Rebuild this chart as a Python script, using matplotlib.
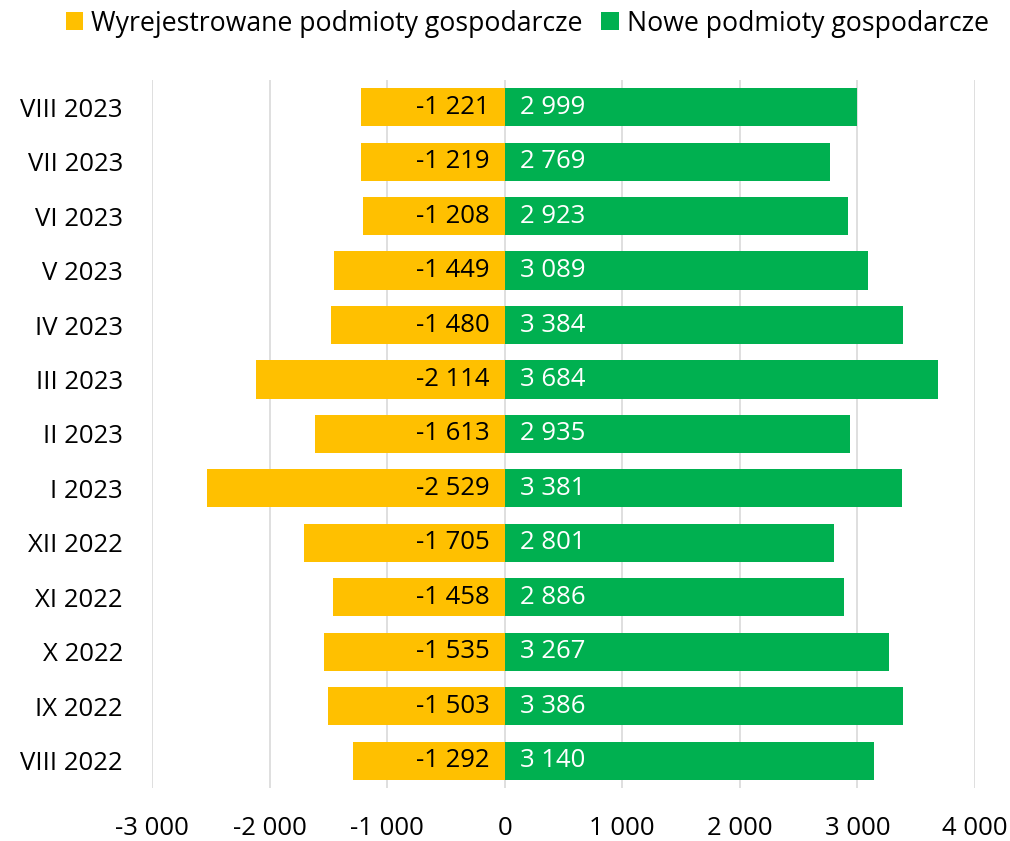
import matplotlib
matplotlib.use("Agg")
import matplotlib.pyplot as plt
from matplotlib.ticker import FuncFormatter

plt.rcParams['font.family'] = ['Open Sans', 'DejaVu Sans']

months = ['VIII 2022', 'IX 2022', 'X 2022', 'XI 2022', 'XII 2022', 'I 2023', 'II 2023',
          'III 2023', 'IV 2023', 'V 2023', 'VI 2023', 'VII 2023', 'VIII 2023']
wyrejestrowane = [-1292, -1503, -1535, -1458, -1705, -2529, -1613,
                  -2114, -1480, -1449, -1208, -1219, -1221]
nowe = [3140, 3386, 3267, 2886, 2801, 3381, 2935,
        3684, 3384, 3089, 2923, 2769, 2999]
ticks = [-3000, -2000, -1000, 0, 1000, 2000, 3000, 4000]

YELLOW = '#FFC000'
GREEN = '#00B050'
FS = 18.5


def fmt(v, pos=None):
    s = f"{abs(int(v)):,}".replace(',', ' ')
    return ('-' if v < 0 else '') + s


fig = plt.figure(figsize=(10.1, 8.41), dpi=100)
ax = fig.add_axes([0.1505, 0.063, 0.8148, 0.842])

y = list(range(len(months)))
b1 = ax.barh(y, wyrejestrowane, height=0.7, color=YELLOW, label='Wyrejestrowane podmioty gospodarcze', zorder=2)
b2 = ax.barh(y, nowe, height=0.7, color=GREEN, label='Nowe podmioty gospodarcze', zorder=2)

for yi, v in zip(y, wyrejestrowane):
    ax.text(-130, yi, fmt(v), ha='right', va='center', fontsize=FS, color='black', zorder=3)
for yi, v in zip(y, nowe):
    ax.text(130, yi, fmt(v), ha='left', va='center', fontsize=FS, color='white', zorder=3)

ax.set_xlim(-3000, 4000)
ax.set_ylim(-0.5, len(months) - 0.5)
ax.set_xticks(ticks)
ax.xaxis.set_major_formatter(FuncFormatter(fmt))
ax.set_yticks(y)
ax.set_yticklabels(months)
ax.tick_params(axis='both', length=0, labelsize=FS)
ax.tick_params(axis='x', pad=20)
ax.tick_params(axis='y', pad=21)
ax.grid(axis='x', color='#D9D9D9', linewidth=1.2, zorder=0)
ax.set_axisbelow(True)
for sp in ax.spines.values():
    sp.set_visible(False)

fig.legend(handles=[b1, b2], loc='upper center', bbox_to_anchor=(0.522, 1.017), ncol=2,
           frameon=False, fontsize=19.2, handlelength=0.65, handleheight=0.65,
           handletextpad=0.3, columnspacing=0.7)

fig.savefig('out.png', dpi=100)
